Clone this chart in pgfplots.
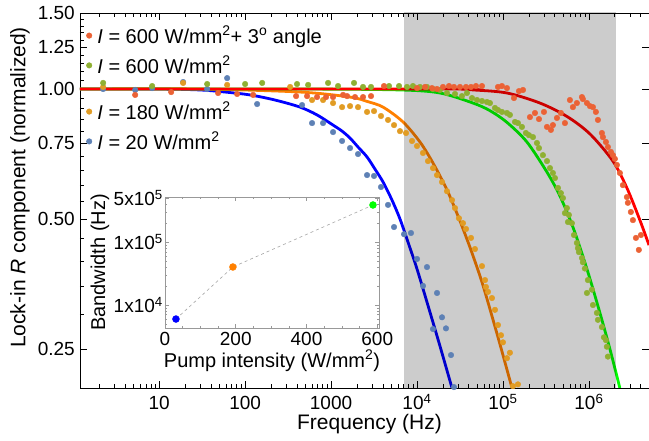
\documentclass[border=0pt]{standalone}
\usepackage{fontspec}
\setmainfont{Liberation Sans}
\usepackage{pgfplots}
\pgfplotsset{compat=1.18}

\definecolor{mmBlue}{HTML}{5E81B5}
\definecolor{mmOrange}{HTML}{E19C24}
\definecolor{mmGreen}{HTML}{8FB032}
\definecolor{mmRed}{HTML}{EB6235}
\definecolor{fitOrange}{HTML}{FF8000}

\pgfplotsset{
  dots/.style={only marks, mark=*, mark size=2.8pt, color=#1, forget plot},
  fit/.style={no marks, smooth, tension=0.5, line width=2.8pt, color=#1, forget plot},
  dotimg/.style={legend image code/.code={\fill[#1] (0pt,0pt) circle (2.8pt); \path (-2.8pt,0pt) (6pt,0pt);}},
}

\begin{document}
\begin{tikzpicture}
\path[use as bounding box] (-80pt,-53pt) rectangle (569pt,388pt);

\begin{axis}[
  at={(0pt,0pt)}, anchor=south west,
  scale only axis, width=569pt, height=375pt,
  xmode=log, ymode=log,
  xmin=1.2, xmax=5e6, ymin=0.203, ymax=1.5,
  xtick={10,100,1000,10000,100000,1000000},
  xticklabels={10,100,1000,10\textsuperscript{4},10\textsuperscript{5},10\textsuperscript{6}},
  minor xtick={2,3,4,5,6,7,8,9,20,30,40,50,60,70,80,90,200,300,400,500,600,700,800,900,
    2000,3000,4000,5000,6000,7000,8000,9000,20000,30000,40000,50000,60000,70000,80000,90000,
    200000,300000,400000,500000,600000,700000,800000,900000,2000000,3000000,4000000},
  ytick={0.25,0.5,0.75,1,1.25,1.5},
  yticklabels={0.25,0.50,0.75,1.00,1.25,1.50},
  minor ytick={0.3,0.35,0.4,0.45,0.55,0.6,0.65,0.7,0.8,0.85,0.9,0.95,1.05,1.1,1.15,1.2,1.3,1.35,1.4,1.45},
  xtick pos=both, ytick pos=left,
  tick align=inside,
  major tick length=7pt, minor tick length=4pt,
  tick style={black, line width=0.6pt},
  axis line style={line width=0.8pt},
  tick label style={font=\fontsize{19}{22}\selectfont},
  xticklabel style={anchor=base, yshift=-22pt},
  yticklabel style={anchor=east, inner sep=0pt, xshift=-5pt},
  xlabel={Frequency (Hz)},
  ylabel={Lock-in \textit{R} component (normalized)},
  label style={font=\fontsize{21}{24}\selectfont},
  xlabel style={at={(axis description cs:0.5,0)}, anchor=base, yshift=-42pt, xshift=5pt},
  ylabel style={at={(axis description cs:0,0.5)}, anchor=center, yshift=60pt, xshift=13pt},
  legend cell align=left,
  legend style={at={(axis description cs:0,1)}, anchor=north west, xshift=6pt, yshift=-11pt,
    draw=none, fill=none, inner sep=0pt, row sep=7pt, font=\fontsize{20}{24}\selectfont},
]
\addlegendimage{dotimg=mmRed}
\addlegendentry{\textit{I} = 600 W/mm\textsuperscript{2}+ 3\textsuperscript{o} angle}
\addlegendimage{dotimg=mmGreen}
\addlegendentry{\textit{I} = 600 W/mm\textsuperscript{2}}

% I = 20 W/mm2
\addplot[dots=mmBlue] coordinates {
  (2.23,1.000)(5.26,0.995)(8.29,1.005)(19.0,1.038)(36.2,1.0)(61.8,1.060)(138,0.923)
  (460,0.918)(601,0.834)(807,0.834)(1055,0.795)(1343,0.758)(1663,0.730)(2060,0.707)
  (2622,0.632)(3162,0.629)(3811,0.593)(4600,0.539)(5403,0.479)(7063,0.461)(8511,0.464)
  (10000,0.404)(11740,0.350)(13060,0.387)(15350,0.278)(17090,0.337)(19540,0.296)
  (21730,0.279)(24850,0.242)(26920,0.204)};
% I = 180 W/mm2
\addplot[dots=mmOrange] coordinates {
  (2.23,1.011)(19.0,1.033)(61.8,1.022)(334,1.011)(601,0.943)(807,0.943)(1055,0.928)
  (1343,0.908)(1663,0.913)(2060,0.908)(2622,0.885)(3162,0.889)(3811,0.866)(4600,0.848)
  (5403,0.825)(6339,0.799)(7454,0.791)(8750,0.758)(10000,0.738)(11740,0.711)(13420,0.681)
  (15350,0.656)(17090,0.632)(19540,0.609)(22320,0.580)(25530,0.553)(27670,0.530)
  (30760,0.502)(34280,0.489)(37150,0.474)(42460,0.452)(47210,0.426)(57000,0.389)
  (61800,0.361)(63390,0.348)(66930,0.339)(74480,0.328)(80720,0.308)(87500,0.284)
  (94840,0.269)(100000,0.259)(111300,0.238)(120500,0.245)(130600,0.205)(149400,0.207)};
% I = 600 W/mm2
\addplot[dots=mmGreen] coordinates {
  (2.23,1.033)(8.29,1.016)(36.2,1.027)(100,1.027)(158,1.033)(402,1.027)(541,1.022)
  (923,1.033)(1206,1.016)(1850,1.033)(2355,1.011)(2917,1.011)(4724,1.016)(6177,1.016)
  (7656,1.011)(8977,1.016)(10830,1.011)(13060,1.011)(15350,1.0)(18490,0.995)(22320,0.979)
  (27670,0.974)(33340,0.963)(38110,0.979)(43610,0.953)(49860,0.943)(57000,0.938)
  (65160,0.933)(70600,0.928)(80720,0.904)(87500,0.894)(97290,0.885)(111300,0.880)
  (120500,0.871)(138000,0.839)(149400,0.834)(166300,0.817)(184900,0.791)(200500,0.782)
  (223400,0.774)(248500,0.750)(262400,0.730)(291700,0.703)(325100,0.681)(352400,0.656)
  (381100,0.639)(402700,0.622)(436500,0.590)(472100,0.574)(498900,0.559)(526000,0.516)
  (554600,0.530)(570200,0.492)(584800,0.511)(633900,0.489)(669900,0.459)(724400,0.440)
  (744700,0.428)(765600,0.419)(829900,0.406)(851100,0.397)(897700,0.384)(972700,0.361)
  (948400,0.337)(1084000,0.343)(1114000,0.316)(1239000,0.303)(1273000,0.292)
  (1416000,0.281)(1494000,0.266)(1577000,0.262)(1618000,0.253)(1663000,0.240)};
% I = 600 W/mm2 + 3 deg
\addplot[dots=mmRed] coordinates {
  (5.26,0.969)(13.8,0.984)(48.5,0.979)(80.7,0.974)(124,0.969)(392,0.963)(526,0.963)
  (687,0.958)(875,0.958)(1055,0.958)(1380,0.969)(1535,0.963)(1900,0.958)(2355,0.958)
  (2917,0.963)(4130,1.016)(10000,1.005)(12390,1.011)(14930,1.005)(17090,1.0)(20050,1.011)
  (23560,1.016)(26920,1.011)(31620,1.011)(37150,1.011)(42460,1.011)(48530,1.016)
  (57000,1.016)(87500,1.011)(97290,1.016)(111300,1.005)(134300,0.953)(153500,0.989)
  (171000,0.995)(206100,0.861)(235600,0.880)(262400,0.852)(299900,0.885)(325100,0.817)
  (361400,0.804)(381100,0.825)(424600,0.857)(472100,0.880)(526000,0.834)(601200,0.943)
  (651600,0.908)(724400,0.928)(829900,0.958)(851100,0.948)(948400,0.928)(1028000,0.913)
  (1114000,0.908)(1205000,0.885)(1273000,0.848)(1416000,0.791)(1455000,0.774)
  (1577000,0.754)(1663000,0.734)(1803000,0.715)(1901000,0.703)(2005000,0.689)
  (2118000,0.667)(2291000,0.639)(2485000,0.599)(2767000,0.562)(2838000,0.545)
  (3076000,0.519)(3251000,0.497)(3524000,0.452)(4027000,0.459)(3811000,0.424)};

% fitted curves
\addplot[fit=blue] coordinates {
  (1.2,1)(10,1)(30,0.995)(58.5,0.984)(114,0.969)(223,0.943)(436,0.908)(687,0.871)
  (1055,0.825)(1343,0.799)(1663,0.770)(2060,0.734)(2622,0.696)(3250,0.652)(4027,0.609)
  (5117,0.553)(6339,0.500)(7859,0.442)(10000,0.383)(13060,0.321)(18490,0.254)(25530,0.203)};
\addplot[fit=fitOrange] coordinates {
  (1.2,1)(30,1)(436,0.984)(1663,0.958)(2622,0.936)(4027,0.908)(6871,0.839)(10830,0.754)
  (15350,0.674)(22320,0.584)(29990,0.508)(41300,0.430)(57000,0.357)(78600,0.287)
  (100000,0.242)(127300,0.203)};
\addplot[fit=green] coordinates {
  (1.2,1)(436,1)(6339,0.995)(18490,0.979)(44770,0.928)(70600,0.891)(111300,0.837)
  (190000,0.754)(325100,0.642)(460300,0.565)(651600,0.479)(948400,0.383)(1343000,0.303)
  (1754000,0.250)(2291000,0.203)};
\addplot[fit=red] coordinates {
  (1.2,1)(18490,1)(45000,0.995)(111300,0.979)(269200,0.928)(554600,0.864)(1028000,0.787)
  (1901000,0.681)(2767000,0.590)(3917000,0.497)(5000000,0.435)};

% shaded band
\addplot[fill=black, fill opacity=0.2, draw=none, forget plot] coordinates {
  (7063,0.19)(2061000,0.19)(2061000,1.6)(7063,1.6)};
\end{axis}

% right-hand ticks and lower legend block
\begin{axis}[
  at={(0pt,0pt)}, anchor=south west,
  scale only axis, width=569pt, height=375pt,
  xmode=log, ymode=log,
  xmin=1.2, xmax=5e6, ymin=0.203, ymax=1.5,
  axis line style={draw=none},
  xtick=\empty,
  ytick={0.25,0.5,0.75,1,1.25,1.5}, yticklabels={},
  ytick pos=right, tick align=inside,
  major tick length=7pt, minor tick length=0pt,
  tick style={black, line width=0.6pt},
  legend cell align=left,
  legend style={at={(axis description cs:0,1)}, anchor=north west, xshift=6pt, yshift=-87pt,
    draw=none, fill=none, inner sep=0pt, row sep=7pt, font=\fontsize{20}{24}\selectfont},
]
\addlegendimage{dotimg=mmOrange}
\addlegendentry{\textit{I} = 180 W/mm\textsuperscript{2}}
\addlegendimage{dotimg=mmBlue}
\addlegendentry{\textit{I} = 20 W/mm\textsuperscript{2}}
\end{axis}

% inset: bandwidth vs pump intensity
\begin{axis}[
  at={(85pt,60pt)}, anchor=south west,
  scale only axis, width=214pt, height=131pt,
  xmin=0, xmax=605, ymode=log, ymin=4300, ymax=5.2e5,
  axis background/.style={fill=white},
  axis line style={gray!80, line width=0.6pt},
  xtick={0,200,400,600}, xticklabels={0,200,400,600},
  minor x tick num=3,
  ytick={10000,100000,500000},
  yticklabels={1x10\textsuperscript{4},1x10\textsuperscript{5},5x10\textsuperscript{5}},
  minor ytick={5000,6000,7000,8000,9000,20000,30000,40000,50000,60000,70000,80000,90000,200000,300000,400000},
  tick pos=both, tick align=inside,
  major tick length=4pt, minor tick length=2pt,
  tick style={gray!80, line width=0.5pt},
  tick label style={font=\fontsize{19}{22}\selectfont},
  xticklabel style={anchor=base, yshift=-18pt},
  yticklabel style={anchor=east, inner sep=0pt, xshift=-2pt},
  xlabel={Pump intensity (W/mm\textsuperscript{2})},
  ylabel={Bandwidth (Hz)},
  label style={font=\fontsize{20}{24}\selectfont},
  xlabel style={at={(axis description cs:0.5,0)}, anchor=base, yshift=-39.5pt},
  ylabel style={at={(axis description cs:0,0.5)}, anchor=center, yshift=65pt},
]
\addplot[gray!70, dashed, line width=0.6pt] coordinates {(31,5970)(192,40100)(588,388000)};
\addplot[only marks, mark=*, mark size=3.5pt, color=blue] coordinates {(31,5970)};
\addplot[only marks, mark=*, mark size=3.5pt, color=fitOrange] coordinates {(192,40100)};
\addplot[only marks, mark=*, mark size=3.5pt, color=green] coordinates {(588,388000)};
\end{axis}
\end{tikzpicture}
\end{document}
